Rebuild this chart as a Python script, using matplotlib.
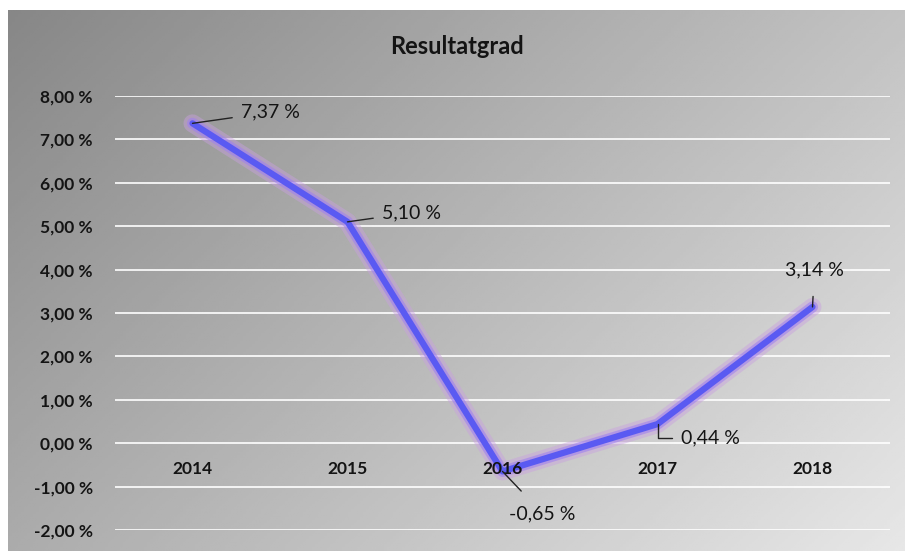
import numpy as np
import matplotlib.pyplot as plt
import matplotlib.patheffects as pe

# --- Data ---
years = ["2014", "2015", "2016", "2017", "2018"]
resultatgrad = [7.37, 5.10, -0.65, 0.44, 3.14]
y_ticks = [-2, -1, 0, 1, 2, 3, 4, 5, 6, 7, 8]

# label placement (pixel offsets, alignment, leader style)
label_pos = [(48, 11, "left", "arc3"),
             (34, 9, "left", "arc3"),
             (40, -42, "center", "arc3"),
             (23, -14, "left", "angle,angleA=0,angleB=90,rad=0"),
             (2, 37, "center", "arc3")]

def pct(v):
    return f"{v:.2f}".replace(".", ",") + " %"

plt.rcParams["font.family"] = ["Lato", "DejaVu Sans"]

fig = plt.figure(figsize=(9.05, 5.51), dpi=100)
fig.patch.set_facecolor("white")

# --- Gray gradient background ---
bg = fig.add_axes([8 / 905, 0, 1 - 8 / 905, 1 - 10 / 551], zorder=0)
gx, gy = np.meshgrid(np.linspace(0, 1, 300), np.linspace(0, 1, 200))
grad = 0.62 * gx + 0.38 * gy
bg.imshow(grad, cmap="gray", vmin=-1.4, vmax=1.25, aspect="auto",
          extent=[0, 1, 0, 1], origin="upper")
bg.axis("off")

# --- Main chart ---
ax = fig.add_axes([115 / 905, 1 - 530 / 551, 775 / 905, 434 / 551], zorder=1)
ax.patch.set_alpha(0)
x = np.arange(len(years))
ax.set_xlim(-0.5, len(years) - 0.5)
ax.set_ylim(-2, 8)

for t in y_ticks:
    ax.axhline(t, color="white", lw=1.4, alpha=0.85, zorder=1)

ax.plot(x, resultatgrad, color="#5a5af2", lw=4.5, solid_capstyle="round",
        solid_joinstyle="round", zorder=2,
        path_effects=[pe.Stroke(linewidth=13, foreground="#c9a0e0", alpha=0.45),
                      pe.Stroke(linewidth=8, foreground="#a080f0", alpha=0.6),
                      pe.Normal()])

for xi, v, (dx, dy, ha, cs) in zip(x, resultatgrad, label_pos):
    ax.annotate(pct(v), (xi, v), xytext=(dx, dy), textcoords="offset pixels",
                ha=ha, va="center", fontsize=14, color="#141414",
                arrowprops=dict(arrowstyle="-", color="#222222", lw=1,
                                shrinkA=4 if ha == "left" else 11, shrinkB=0,
                                connectionstyle=cs), zorder=4)

ax.spines["bottom"].set_position(("data", 0))
for s in ax.spines.values():
    s.set_visible(False)
ax.set_yticks(y_ticks)
ax.set_yticklabels([pct(t) for t in y_ticks])
ax.set_xticks(x)
ax.set_xticklabels(years)
for lab in ax.get_xticklabels() + ax.get_yticklabels():
    lab.set_fontsize(12.5)
    lab.set_fontweight("bold")
    lab.set_color("#141414")
ax.tick_params(axis="y", length=0, pad=16)
ax.tick_params(axis="x", length=0, pad=13)
ax.xaxis.set_zorder(3)

fig.text(0.5 + 4 / 905, 1 - 47 / 551, "Resultatgrad", ha="center", va="center",
         fontsize=17, fontweight="bold", color="#141414")

fig.savefig("out.png", dpi=100)
